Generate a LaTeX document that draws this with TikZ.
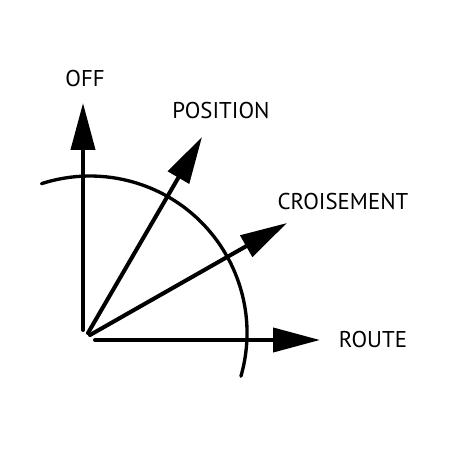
\documentclass[tikz,border=0pt]{standalone}
\usepackage{fontspec}
\setmainfont{PT Sans}
\usetikzlibrary{arrows.meta}

\begin{document}
\begin{tikzpicture}[line cap=round,line join=round,x=0.02cm,y=0.02cm,
    vect/.style={line width=2.3pt,-{Triangle[length=0.94cm,width=0.48cm]}},
    lbl/.style={font=\fontsize{13}{14}\selectfont,inner sep=0pt}]
  \useasboundingbox (0,0) rectangle (450,450);
  % centre of the dial and arrow ends
  \coordinate (o) at (90,117);
  \coordinate (offs) at (83,120);
  \coordinate (offt) at (83,347);
  \coordinate (poss) at (88,117);
  \coordinate (post) at (202,313);
  \coordinate (cros) at (90,115);
  \coordinate (crot) at (287,227);
  \coordinate (rous) at (95,110);
  \coordinate (rout) at (320,110);
  % the quarter arc
  \draw [line width=1.9pt] (o) ++(-16:157) arc[start angle=-16,end angle=108,radius=157];
  % arrows
  \draw [vect] (offs) -- (offt);
  \draw [vect] (poss) -- (post);
  \draw [vect] (cros) -- (crot);
  \draw [vect] (rous) -- (rout);
  % labels
  \node[lbl] (off) at (85,371) {OFF};
  \node[lbl] (position) at (221,339) {POSITION};
  \node[lbl] (croisement) at (343,248) {CROISEMENT};
  \node[lbl] (route) at (373,110) {ROUTE};
\end{tikzpicture}
\end{document}
